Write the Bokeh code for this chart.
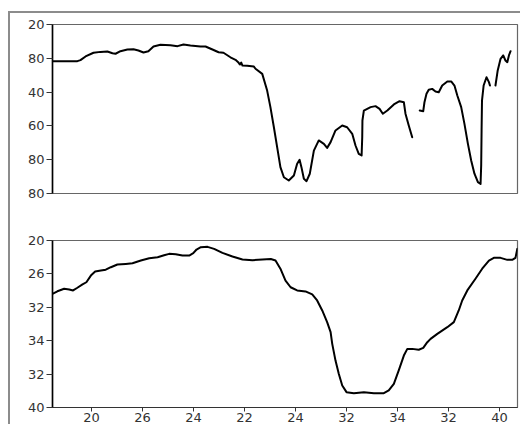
from bokeh.plotting import figure
from bokeh.layouts import column
from bokeh.models import FixedTicker, Range1d, InlineStyleSheet
from bokeh.embed import file_html
from bokeh.resources import INLINE

nan = float("nan")

# Top panel trace (NaN separates the three drawn segments)
top_x = [18.09, 19.31, 19.46, 19.71, 20.10, 20.44, 20.78, 21.03, 21.18, 21.42, 21.76, 22.06,
         22.30, 22.55, 22.79, 23.04, 23.38, 23.87, 24.22, 24.51, 24.85, 25.34, 25.59, 25.93,
         26.23, 26.47, 26.81, 27.06, 27.19, 27.27, 27.34, 27.40, 27.63, 27.96,
         28.04, 28.37, 28.61, 28.77, 28.94, 29.10, 29.26, 29.43, 29.67, 29.92, 30.08, 30.20,
         30.29, 30.41, 30.54, 30.70, 30.90, 31.14, 31.39, 31.55, 31.72, 31.96, 32.29, 32.53,
         32.78, 32.94, 33.10, 33.24, 33.27, 33.28, 33.35, 33.68, 33.92, 34.12, 34.28, 34.50,
         34.82, 35.10, 35.31, 35.39, 35.55, 35.72,
         nan,
         36.09, 36.26, 36.32, 36.42, 36.53, 36.70, 36.86, 37.02, 37.19, 37.44, 37.63, 37.79,
         37.93, 38.12, 38.28, 38.45, 38.61, 38.77, 38.94, 39.07, 39.10, 39.12, 39.14, 39.22,
         39.36, 39.48, 39.53,
         nan,
         39.80, 39.91, 40.05, 40.18, 40.29, 40.38, 40.46, 40.54]
top_y = [78.3, 78.3, 78.9, 81.1, 83.3, 83.8, 84.0, 83.0, 82.7, 84.2, 85.2, 85.4,
         84.6, 83.4, 84.2, 87.0, 88.0, 87.7, 87.2, 88.2, 87.6, 87.0, 87.0, 85.2,
         83.6, 83.3, 80.6, 79.1, 77.7, 76.3, 77.5, 75.7, 75.6, 75.1,
         73.8, 70.8, 60.9, 51.1, 39.2, 27.4, 15.6, 9.6, 7.7, 10.7, 17.6, 19.9,
         15.6, 8.7, 7.3, 11.7, 25.4, 31.4, 29.4, 27.0, 30.4, 37.3, 40.2, 39.2,
         35.3, 28.4, 23.5, 22.5, 33.3, 43.2, 49.1, 51.1, 51.7, 50.1, 47.2, 49.1,
         52.7, 54.6, 54.0, 47.2, 40.2, 33.3,
         nan,
         49.1, 48.7, 54.0, 59.0, 61.4, 61.9, 60.4, 59.9, 63.9, 66.3, 66.3, 63.9,
         58.0, 51.1, 41.2, 29.4, 19.5, 11.7, 6.7, 5.7, 16.6, 37.3, 55.0, 63.9,
         68.8, 65.9, 63.9,
         nan,
         63.9, 72.8, 79.7, 81.7, 78.7, 77.7, 81.7, 84.2]

# Bottom panel trace
bottom_x = [18.09, 18.33, 18.66, 18.91, 19.10, 19.31, 19.56, 19.75, 19.97, 20.18, 20.46, 20.70,
            20.95, 21.27, 21.68, 22.01, 22.42, 22.83, 23.24, 23.56, 23.81, 24.13, 24.46, 24.79,
            24.99, 25.15, 25.36, 25.69, 26.01, 26.42, 26.91, 27.40, 27.89, 28.38, 28.79, 29.02,
            29.26, 29.51, 29.76, 30.08, 30.49, 30.82, 31.06, 31.31, 31.55, 31.72, 31.80, 31.96,
            32.12, 32.29, 32.50, 32.86, 33.35, 33.84, 34.33, 34.57, 34.82, 35.06, 35.31, 35.48,
            35.72, 36.04, 36.26, 36.46, 36.62, 36.95, 37.44, 37.76, 38.00, 38.17, 38.42, 38.82,
            39.15, 39.48, 39.72, 40.05, 40.38, 40.62, 40.78, 40.87]
bottom_y = [68.1, 69.6, 71.1, 70.7, 70.1, 71.7, 73.7, 75.0, 79.0, 81.4, 82.0, 82.5,
            84.0, 85.6, 86.0, 86.4, 88.0, 89.4, 90.0, 91.2, 92.0, 91.8, 91.0, 91.0,
            92.4, 94.6, 96.0, 96.2, 95.0, 92.6, 90.4, 88.6, 88.2, 88.6, 88.9, 88.0,
            83.1, 76.0, 72.0, 70.1, 69.5, 67.7, 64.1, 58.1, 51.1, 45.1, 38.1, 28.1,
            20.2, 13.2, 9.2, 8.6, 9.2, 8.6, 8.6, 10.2, 14.2, 22.2, 31.1, 35.1,
            35.1, 34.6, 35.7, 39.1, 41.1, 44.1, 48.1, 51.1, 58.1, 64.1, 70.1, 77.1,
            83.1, 88.0, 89.6, 89.6, 88.4, 88.4, 89.6, 95.0]

x_ticks = [20, 22.5, 25, 27.5, 30, 32.5, 35, 37.5, 40]
x_tick_labels = ["20", "26", "24", "22", "24", "32", "34", "32", "40"]
y_ticks = [0, 20, 40, 60, 80, 100]
top_y_labels = ["80", "80", "60", "40", "80", "20"]
bottom_y_labels = ["40", "32", "34", "32", "26", "20"]

X_RANGE = (18.09, 40.88)
FONT = "DejaVu Sans"


def make_panel(xs, ys, ylabels, show_x, frame_h, top_border, bottom_border):
    p = figure(frame_width=465, frame_height=frame_h,
               x_range=Range1d(*X_RANGE), y_range=Range1d(0, 100),
               output_backend="svg", toolbar_location=None,
               min_border_left=42, min_border_right=3,
               min_border_top=top_border, min_border_bottom=bottom_border)
    p.line(xs, ys, line_color="black", line_width=2, line_join="round", line_cap="round")
    p.xgrid.visible = False
    p.ygrid.visible = False
    p.outline_line_color = "#666666"
    p.outline_line_width = 1.2
    p.background_fill_color = "white"
    p.border_fill_color = "white"

    ya = p.yaxis[0]
    ya.ticker = FixedTicker(ticks=y_ticks)
    ya.major_label_overrides = {t: l for t, l in zip(y_ticks, ylabels)}
    ya.minor_tick_line_color = None
    ya.major_tick_in = 0
    ya.major_tick_out = 6
    ya.major_label_standoff = 2
    ya.axis_line_color = "black"
    ya.axis_line_width = 1.6
    ya.major_tick_line_color = "#333333"
    ya.major_label_text_font = FONT
    ya.major_label_text_font_size = "13px"
    ya.major_label_text_color = "#333333"

    xa = p.xaxis[0]
    if show_x:
        xa.ticker = FixedTicker(ticks=x_ticks)
        xa.major_label_overrides = {t: l for t, l in zip(x_ticks, x_tick_labels)}
        xa.minor_tick_line_color = None
        xa.major_tick_in = 0
        xa.major_tick_out = 4
        xa.major_label_standoff = 1
        xa.axis_line_color = "#333333"
        xa.axis_line_width = 1.2
        xa.major_tick_line_color = "#333333"
        xa.major_label_text_font = FONT
        xa.major_label_text_font_size = "13px"
        xa.major_label_text_color = "#333333"
    else:
        xa.visible = False
    return p


p1 = make_panel(top_x, top_y, top_y_labels, False, 169, 11, 18)
p2 = make_panel(bottom_x, bottom_y, bottom_y_labels, True, 167, 29, 0)

border = InlineStyleSheet(css=":host { margin-left: 8px; margin-top: 11px; "
                              "border-top: 2px solid #8c8c8c; border-left: 2px solid #8c8c8c; }")
layout = column(p1, p2, spacing=0, stylesheets=[border])

with open("out.html", "w") as f:
    f.write(file_html(layout, INLINE))
